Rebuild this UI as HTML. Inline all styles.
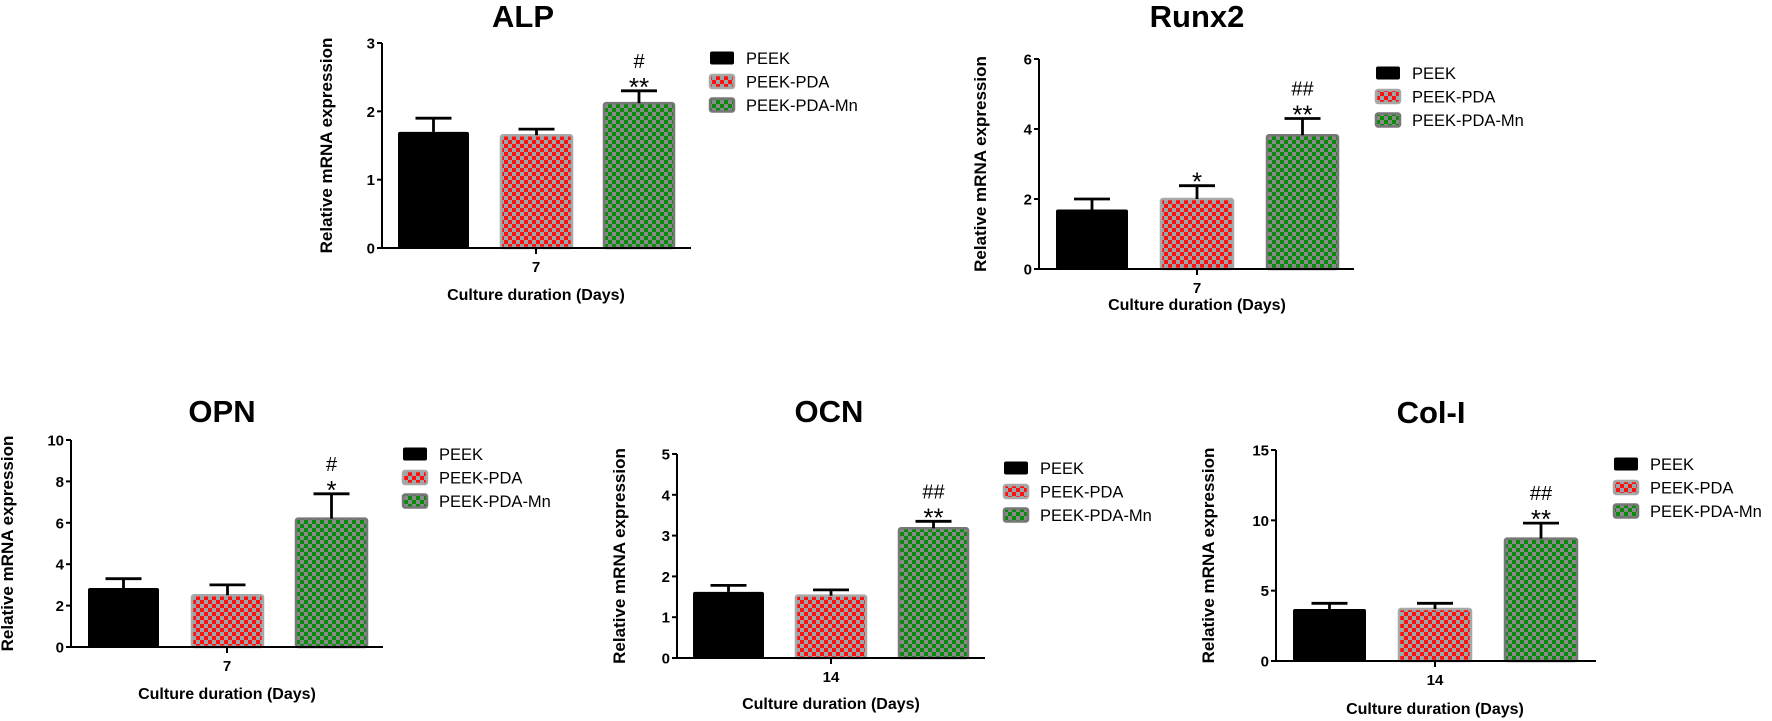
<!DOCTYPE html>
<html><head><meta charset="utf-8"><style>
html,body{margin:0;padding:0;background:#fff;}
svg{display:block;font-family:"Liberation Sans",Arial,sans-serif;}
</style></head><body>
<svg id="fig" width="1772" height="721" viewBox="0 0 1772 721" xmlns="http://www.w3.org/2000/svg">
<defs>
<pattern id="pRed" width="8" height="8" patternUnits="userSpaceOnUse">
<rect width="8" height="8" fill="#9aa6a8"/><rect width="4" height="4" fill="#ff1010"/><rect x="4" y="4" width="4" height="4" fill="#ff1010"/>
</pattern>
<pattern id="pGreen" width="8" height="8" patternUnits="userSpaceOnUse">
<rect width="8" height="8" fill="#8a8a8a"/><rect width="4" height="4" fill="#0a8a0a"/><rect x="4" y="4" width="4" height="4" fill="#0a8a0a"/>
</pattern>
</defs>
</svg>
<script>
const groups = ["PEEK","PEEK-PDA","PEEK-PDA-Mn"];
const alpMeans = [1.7, 1.65, 2.12];
const alpErr = [1.9, 1.74, 2.3];
const alpMarks = ["", "", "#|**"];
const alpTicks = [0,1,2,3];
const runxMeans = [1.7, 2.0, 3.82];
const runxErr = [2.0, 2.38, 4.3];
const runxMarks = ["", "*", "##|**"];
const runxTicks = [0,2,4,6];
const opnMeans = [2.85, 2.5, 6.2];
const opnErr = [3.3, 3.0, 7.4];
const opnMarks = ["", "", "#|*"];
const opnTicks = [0,2,4,6,8,10];
const ocnMeans = [1.62, 1.53, 3.18];
const ocnErr = [1.78, 1.67, 3.35];
const ocnMarks = ["", "", "##|**"];
const ocnTicks = [0,1,2,3,4,5];
const colMeans = [3.7, 3.7, 8.7];
const colErr = [4.1, 4.1, 9.8];
const colMarks = ["", "", "##|**"];
const colTicks = [0,5,10,15];

const svg = document.getElementById('fig');
const NS = 'http://www.w3.org/2000/svg';
function mk(tag, attrs, parent){
  const e = document.createElementNS(NS, tag);
  for (const k in attrs) e.setAttribute(k, attrs[k]);
  (parent||svg).appendChild(e);
  return e;
}
const fills = ['#000','url(#pRed)','url(#pGreen)'];
const strokes = ['#000','#a8a8a8','#777'];

function chart(cfg, means, errs, marks, ticks){
  const g = mk('g', {});
  
  
  const ymax = ticks[ticks.length-1];
  const y = v => cfg.y0 - (v/ymax)*(cfg.y0-cfg.yTop);
  const t = mk('text', {x:cfg.tx, y:cfg.ty, 'text-anchor':'middle', 'font-size':31, 'font-weight':'bold'}, g);
  t.textContent = cfg.title;
  
  
  for (let i=0;i<means.length;i++){
    const [x1,x2] = cfg.bars[i];
    const r = mk('rect', {x:x1, y:y(means[i]), width:x2-x1, height:cfg.y0-y(means[i]), fill:fills[i], stroke:strokes[i], 'stroke-width': i?2.5:0, rx:2}, g);
    
    
    const cx = (x1+x2)/2;
    const eb = mk('path', {d:`M${cx},${y(means[i])} V${y(errs[i])} M${cx-18},${y(errs[i])} H${cx+18}`, stroke:'#000', 'stroke-width':2.8, fill:'none'}, g);
    
    
    if (marks[i]){
      const lines = marks[i].split('|').reverse();
      lines.forEach((s, j) => {
        const isStar = s.indexOf('*')>=0;
        const m = mk('text', {x:cx, y:y(errs[i]) - 4 - j*19 + (isStar?9:0), 'text-anchor':'middle', 'font-size': isStar?26:20}, g);
        m.textContent = s;
        
        
      });
    }
  }
  const ax = mk('path', {d:`M${cfg.ax},${cfg.yTop} V${cfg.y0} H${cfg.axEnd}`, stroke:'#000', 'stroke-width':2, fill:'none'}, g);
  
  
  ticks.forEach(v => {
    mk('line', {x1:cfg.ax-5, x2:cfg.ax, y1:y(v), y2:y(v), stroke:'#000', 'stroke-width':2}, g);
    const tl = mk('text', {x:cfg.ax-7, y:y(v)+5.5, 'text-anchor':'end', 'font-size':15, 'font-weight':'bold'}, g);
    tl.textContent = v;
    
    
  });
  mk('line', {x1:cfg.xt, x2:cfg.xt, y1:cfg.y0, y2:cfg.y0+6, stroke:'#000', 'stroke-width':2}, g);
  const xl = mk('text', {x:cfg.xt, y:cfg.y0+24, 'text-anchor':'middle', 'font-size':15, 'font-weight':'bold'}, g);
  xl.textContent = cfg.day;
  
  
  const xt = mk('text', {x:cfg.xt, y:cfg.xty, 'text-anchor':'middle', 'font-size':16, 'font-weight':'bold'}, g);
  xt.textContent = 'Culture duration (Days)';
  
  
  const yc = (cfg.y0+cfg.yTop)/2;
  const ytx = cfg.ytx - 5;
  const yt = mk('text', {x:ytx, y:yc, 'text-anchor':'middle', 'font-size':17, 'font-weight':'bold', transform:`rotate(-90 ${ytx} ${yc})`}, g);
  yt.textContent = 'Relative mRNA expression';
  
  
  groups.forEach((gname, i) => {
    const ly = cfg.ly + i*23.5;
    const lr = mk('rect', {x:cfg.lx, y:ly-6.5, width:24, height:13, rx:2, fill:fills[i], stroke:strokes[i], 'stroke-width':i?2.5:0}, g);
    
    
    const lt = mk('text', {x:cfg.lx+36, y:ly+6, 'font-size':16.5}, g);
    lt.textContent = gname;
    
    
  });
}

chart({name:'alp', title:'ALP', tx:523, ty:27, ax:382, axEnd:691, yTop:43, y0:248, bars:[[398,469],[501,572],[604,674]], xt:536, day:'7', xty:300, ytx:337, lx:710, ly:58}, alpMeans, alpErr, alpMarks, alpTicks);
chart({name:'runx2', title:'Runx2', tx:1197, ty:27, ax:1039, axEnd:1354, yTop:59, y0:269, bars:[[1056,1128],[1161,1233],[1267,1338]], xt:1197, day:'7', xty:310, ytx:991, lx:1376, ly:73}, runxMeans, runxErr, runxMarks, runxTicks);
chart({name:'opn', title:'OPN', tx:222, ty:422, ax:71, axEnd:383, yTop:440, y0:647, bars:[[88,159],[192,263],[296,367]], xt:227, day:'7', xty:699, ytx:18, lx:403, ly:454}, opnMeans, opnErr, opnMarks, opnTicks);
chart({name:'ocn', title:'OCN', tx:829, ty:422, ax:677, axEnd:985, yTop:454, y0:658, bars:[[693,764],[796,866],[899,968]], xt:831, day:'14', xty:709, ytx:630, lx:1004, ly:468}, ocnMeans, ocnErr, ocnMarks, ocnTicks);
chart({name:'col-i', title:'Col-I', tx:1431, ty:423, ax:1276, axEnd:1596, yTop:450, y0:661, bars:[[1293,1366],[1399,1471],[1505,1577]], xt:1435, day:'14', xty:714, ytx:1219, lx:1614, ly:464}, colMeans, colErr, colMarks, colTicks);
</script>
</body></html>
